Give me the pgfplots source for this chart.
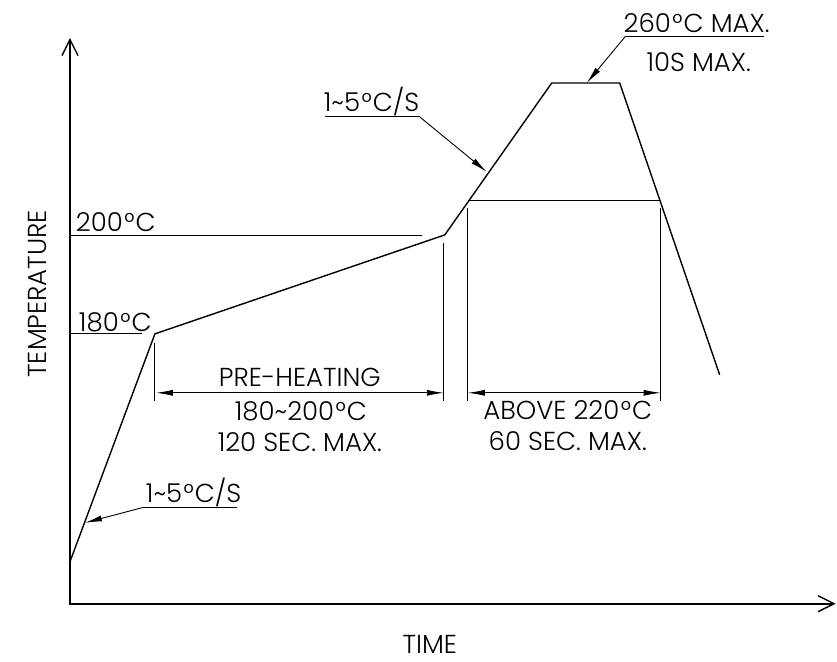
\documentclass[border=0pt]{standalone}
\usepackage{pgfplots}
\pgfplotsset{compat=1.18}
\usepackage{fontspec}
\setmainfont{Poppins Light}
\usetikzlibrary{arrows.meta}
\tikzset{lbl/.style={font=\fontsize{26}{31}\selectfont, inner sep=0pt, outer sep=0pt}}
\newcommand{\dg}{\kern1.5pt°\kern1pt}
\begin{document}
\begin{tikzpicture}
\begin{axis}[
  scale only axis, width=837pt, height=662pt,
  xmin=0, xmax=837, ymin=0, ymax=662, y dir=reverse,
  axis lines=none, clip=false,
]
\path (axis cs:0,0) rectangle (axis cs:837,662);
% axes
\draw[line width=1.6pt, -{Straight Barb[length=16pt,width=16pt,line width=1.4pt]}] (axis cs:70,604) -- (axis cs:70,38);
\draw[line width=1.6pt, -{Straight Barb[length=16pt,width=16pt,line width=1.4pt]}] (axis cs:69.2,604) -- (axis cs:836,604);
% profile
\addplot[black, line width=1.4pt, mark=none] coordinates {(70,562) (155,334) (445,235) (552,83) (620,83) (720,375)};
% reference lines
\addplot[black, line width=1.1pt, mark=none] coordinates {(70,236) (422,236)};
\addplot[black, line width=1.1pt, mark=none] coordinates {(70,334) (142,334)};
\addplot[black, line width=1.1pt, mark=none] coordinates {(468,201) (660,201)};
% extension lines
\addplot[black, line width=0.9pt, mark=none] coordinates {(155,343) (155,401)};
\addplot[black, line width=0.9pt, mark=none] coordinates {(444,243) (444,401)};
\addplot[black, line width=0.9pt, mark=none] coordinates {(468,208) (468,401)};
\addplot[black, line width=0.9pt, mark=none] coordinates {(661,208) (661,401)};
% dimension arrows
\draw[line width=0.9pt, {Latex[length=17pt,width=6pt]}-{Latex[length=17pt,width=6pt]}] (axis cs:156,393) -- (axis cs:444,393);
\draw[line width=0.9pt, {Latex[length=17pt,width=6pt]}-{Latex[length=17pt,width=6pt]}] (axis cs:468,393) -- (axis cs:661,393);
% leaders
\draw[line width=0.9pt] (axis cs:237,508) -- (axis cs:142,508);
\draw[line width=0.9pt, -{Latex[length=17pt,width=6pt]}] (axis cs:142,508) -- (axis cs:85,523);
\draw[line width=0.9pt] (axis cs:325,117) -- (axis cs:420,117);
\draw[line width=0.9pt, -{Latex[length=17pt,width=6pt]}] (axis cs:420,117) -- (axis cs:487,172);
\draw[line width=0.9pt] (axis cs:764,36) -- (axis cs:626,36);
\draw[line width=0.9pt, -{Latex[length=17pt,width=6pt]}] (axis cs:626,36) -- (axis cs:587,83);
% texts
\node[lbl, anchor=base west] at (axis cs:76,232) {200\dg C};
\node[lbl, anchor=base west] at (axis cs:79,332) {180\dg C};
\node[lbl, anchor=base] at (axis cs:300,387) {PRE-HEATING};
\node[lbl, anchor=base] at (axis cs:301,421) {180\textasciitilde200\dg C};
\node[lbl, anchor=base] at (axis cs:300,452) {120 SEC. MAX.};
\node[lbl, anchor=base] at (axis cs:568,420) {ABOVE 220\dg C};
\node[lbl, anchor=base] at (axis cs:568,451) {60 SEC. MAX.};
\node[lbl, anchor=base west] at (axis cs:146,503) {1\textasciitilde5\dg C/S};
\node[lbl, anchor=base west] at (axis cs:324,112) {1\textasciitilde5\dg C/S};
\node[lbl, anchor=base] at (axis cs:697,33) {260\dg C MAX.};
\node[lbl, anchor=base] at (axis cs:699,72) {10S MAX.};
\node[lbl, anchor=base, rotate=90] at (axis cs:47,294) {TEMPERATURE};
\node[lbl, anchor=base] at (axis cs:430,654) {TIME};
\end{axis}
\end{tikzpicture}
\end{document}
